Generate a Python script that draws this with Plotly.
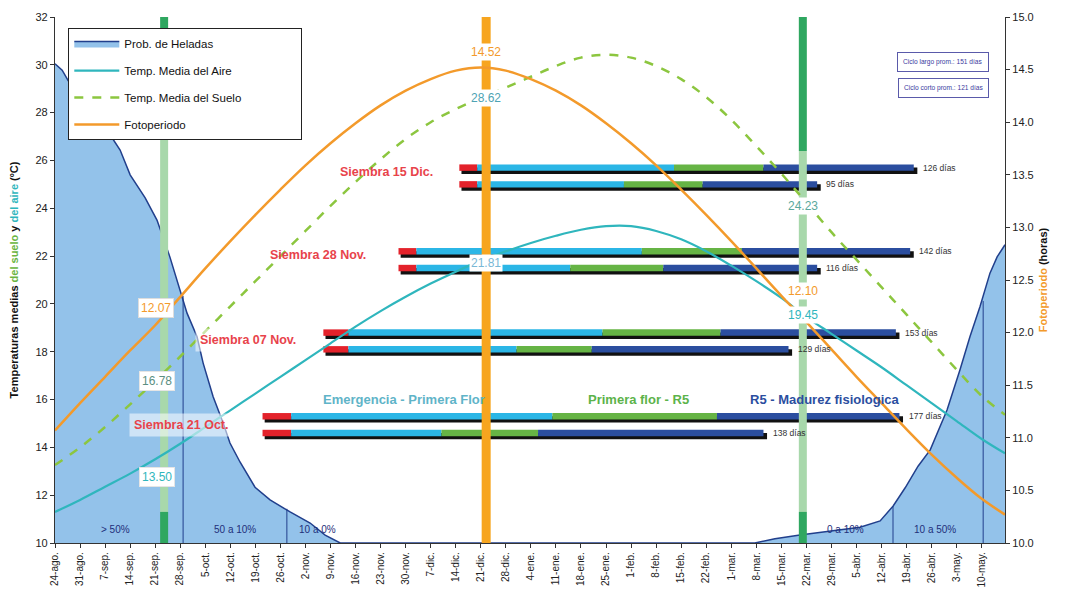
import plotly.graph_objects as go

# ---------------- DATA ----------------
week_labels = ["24-ago.", "31-ago.", "7-sep.", "14-sep.", "21-sep.", "28-sep.", "5-oct.", "12-oct.",
               "19-oct.", "26-oct.", "2-nov.", "9-nov.", "16-nov.", "23-nov.", "30-nov.", "7-dic.",
               "14-dic.", "21-dic.", "28-dic.", "4-ene.", "11-ene.", "18-ene.", "25-ene.", "1-feb.",
               "8-feb.", "15-feb.", "22-feb.", "1-mar.", "8-mar.", "15-mar.", "22-mar.", "29-mar.",
               "5-abr.", "12-abr.", "19-abr.", "26-abr.", "3-may.", "10-may."]
week_days = [7 * i for i in range(len(week_labels))]

# series sampled weekly (days since 24-ago) plus final point
curve_days = week_days + [265.5]
fotoperiodo = [11.07, 11.33, 11.58, 11.83, 12.07, 12.34, 12.61, 12.87, 13.12, 13.36, 13.59, 13.80,
               13.99, 14.16, 14.30, 14.41, 14.49, 14.52, 14.49, 14.41, 14.30, 14.16, 13.99, 13.80,
               13.59, 13.36, 13.12, 12.87, 12.61, 12.35, 12.10, 11.84, 11.58, 11.33, 11.08, 10.84,
               10.62, 10.42, 10.27]
temp_aire = [11.30, 11.80, 12.35, 12.90, 13.50, 14.15, 14.85, 15.55, 16.25, 16.95, 17.65, 18.35,
             19.05, 19.70, 20.30, 20.85, 21.35, 21.81, 22.20, 22.55, 22.85, 23.10, 23.25, 23.25,
             23.05, 22.70, 22.20, 21.60, 20.95, 20.25, 19.45, 18.75, 18.05, 17.35, 16.60, 15.85,
             15.10, 14.35, 13.75]
temp_suelo = [13.26, 14.00, 14.85, 15.80, 16.78, 17.80, 18.85, 19.90, 20.95, 22.00, 23.05, 24.10,
              25.10, 26.05, 26.90, 27.60, 28.15, 28.62, 29.05, 29.50, 29.95, 30.30, 30.42, 30.30,
              29.95, 29.40, 28.65, 27.70, 26.60, 25.45, 24.23, 23.00, 21.85, 20.70, 19.55, 18.40,
              17.25, 16.15, 15.36]

# frost probability (%)
helada_days = [0, 2.0, 3.6, 7.0, 11.2, 15.4, 18.2, 21.0, 25.2, 28.5, 32.1, 34.9, 36.9, 39.7, 41.4,
               44.2, 47.0, 48.9, 51.7, 55.9, 60.1, 65.7, 71.3, 75.5, 79.7,
               195.6, 201.2, 208.2, 216.6, 225.0, 230.6, 234.2, 237.6, 241.2, 244.6, 249.3, 252.9,
               255.7, 258.5, 261.3, 263.3, 265.5]
helada_prob = [91.1, 89.9, 88.0, 84.2, 80.4, 77.6, 74.7, 70.0, 65.6, 61.4, 54.4, 48.1, 43.7, 39.2,
               34.2, 27.8, 22.8, 19.0, 15.4, 10.6, 8.2, 5.9, 3.8, 1.5, 0.0,
               0.0, 0.8, 1.5, 2.3, 3.0, 4.2, 7.0, 10.5, 14.6, 17.7, 25.3, 32.9, 39.2, 44.9, 51.3,
               54.4, 56.7]
rango_dias = [35.8, 64.8, 234.2, 259.4]
rango_prob = [47.0, 6.5, 7.0, 46.0]
rango_textos = ["> 50%", "50 a 10%", "10 a 0%", "0 a 10%", "10 a 50%"]
rango_text_days = [16.8, 50.3, 73.5, 220.8, 246.0]

# phenology bars (days since 24-ago)
siembra_nombres = ["Siembra 15 Dic.", "Siembra 28 Nov.", "Siembra 07 Nov.", "Siembra 21 Oct."]
bar_siembra = [113, 113, 96, 96, 75, 75, 58, 58]
bar_emergencia = [118, 118, 101, 101, 82, 82, 66, 66]
bar_flor = [173, 159, 164, 144, 153, 129, 139, 108]
bar_r5 = [198, 181, 192, 170, 186, 150, 185, 135]
bar_madurez = [240, 213, 239, 213, 235, 205, 236, 198]
bar_dias = [126, 95, 142, 116, 153, 129, 177, 138]
fases = ["Emergencia - Primera Flor", "Primera flor - R5", "R5 - Madurez fisiologica"]
ciclo_textos = ["Ciclo largo prom.: 151 días", "Ciclo corto prom.: 121 días"]

# reference dates (vertical bands): 21-sep, 21-dic, 22-mar
band_days = [30.5, 120.5, 209.0]

# ---------------- LAYOUT CONSTANTS ----------------
BAR_Y = [25.7, 25.0, 22.2, 21.5, 18.8, 18.1, 15.3, 14.6]
LABEL_Y = [25.5, 22.05, 18.5, 14.95]
LABEL_X = [106.2, 87.5, 68.7, 50.0]
FASE_X = [97.5, 163.0, 215.2]
FONT = "Arial, Liberation Sans, sans-serif"

C_ORANGE = "#f39a2b"
C_TEAL = "#2fb6bd"
C_SOIL = "#8cc63f"
C_FROST = "#93c2ea"
C_FROST_LINE = "#213f8c"
C_RED = "#e3222b"
C_CYAN = "#2bb6e6"
C_GREEN = "#66b445"
C_DBLUE = "#2b4e9f"

fig = go.Figure()

# frost probability area (base hidden axis y)
fig.add_trace(go.Scatter(x=helada_days, y=helada_prob, yaxis="y", mode="lines",
                         fill="tozeroy", fillcolor=C_FROST,
                         line=dict(color=C_FROST_LINE, width=1.5),
                         name="Prob. de Heladas", legendgroup="a"))
for d, p in zip(rango_dias, rango_prob):
    fig.add_trace(go.Scatter(x=[d, d], y=[0, p], yaxis="y", mode="lines",
                             line=dict(color=C_FROST_LINE, width=1), showlegend=False,
                             hoverinfo="skip"))

# vertical bands (temperature axis y2)
for i, d in enumerate(band_days):
    if i == 1:
        fig.add_trace(go.Scatter(x=[d, d], y=[10, 32], yaxis="y2", mode="lines",
                                 line=dict(color="#f7a51f", width=9), showlegend=False,
                                 hoverinfo="skip"))
    else:
        split = 27.3 if i == 0 else 26.4
        for (y0, y1, col) in [(split, 32, "#2fa760"), (11.3, split, "#a8d8ab"),
                              (10, 11.3, "#2fa760")]:
            fig.add_trace(go.Scatter(x=[d, d], y=[y0, y1], yaxis="y2", mode="lines",
                                     line=dict(color=col, width=8), showlegend=False,
                                     hoverinfo="skip"))

# curves
fig.add_trace(go.Scatter(x=curve_days, y=temp_aire, yaxis="y2", mode="lines", line_shape="spline",
                         line=dict(color=C_TEAL, width=2.2), name="Temp. Media del Aire",
                         legendgroup="b"))
fig.add_trace(go.Scatter(x=curve_days, y=temp_suelo, yaxis="y2", mode="lines", line_shape="spline",
                         line=dict(color=C_SOIL, width=2.5, dash="dash"),
                         name="Temp. Media del Suelo" + "&nbsp;" * 17, legendgroup="c"))

# bars: shadow then segments
BW = 0.27
fig.add_trace(go.Bar(orientation="h", y=[p - 0.13 for p in BAR_Y], yaxis="y2",
                     base=[s + 0.6 for s in bar_siembra],
                     x=[m - s + 0.4 for s, m in zip(bar_siembra, bar_madurez)],
                     width=BW, marker=dict(color="#111111", line=dict(width=0)),
                     showlegend=False, hoverinfo="skip"))
segments = [(bar_siembra, bar_emergencia, C_RED), (bar_emergencia, bar_flor, C_CYAN),
            (bar_flor, bar_r5, C_GREEN), (bar_r5, bar_madurez, C_DBLUE)]
for starts, ends, col in segments:
    fig.add_trace(go.Bar(orientation="h", y=BAR_Y, yaxis="y2", base=starts,
                         x=[e - s for s, e in zip(starts, ends)], width=BW,
                         marker=dict(color=col, line=dict(width=0)),
                         showlegend=False, hoverinfo="skip"))

# photoperiod (right axis y3)
fig.add_trace(go.Scatter(x=curve_days, y=fotoperiodo, yaxis="y3", mode="lines",
                         line_shape="spline", line=dict(color=C_ORANGE, width=2.5),
                         name="Fotoperiodo", legendgroup="d"))

ann = []

def add(text, x, y, color, size, bold=False, bg=None, xanchor="center", border=None,
        pad=1, yref="y2"):
    t = "<b>" + text + "</b>" if bold else text
    a = dict(text=t, x=x, y=y, xref="x", yref=yref, showarrow=False, xanchor=xanchor,
             yanchor="middle", font=dict(family=FONT, size=size, color=color))
    if bg:
        a["bgcolor"] = bg
        a["borderpad"] = pad
    if border:
        a["bordercolor"] = border
        a["borderwidth"] = 1
    ann.append(a)

# bar end labels
for m, y, n in zip(bar_madurez, BAR_Y, bar_dias):
    add(f"{n} días", m + 2.0, y, "#333333", 8.5, xanchor="left")

# sowing labels
for i, (name, y) in enumerate(zip(siembra_nombres, LABEL_Y)):
    bg = "rgba(255,255,255,0.55)" if i >= 2 else None
    add(name, LABEL_X[i], y, "#e8434b", 12.5, bold=True, bg=bg, xanchor="right", pad=4)

# phase labels
fase_colores = ["#5fb4c8", "#5cb34a", C_DBLUE]
for t, x, c in zip(fases, FASE_X, fase_colores):
    add(t, x, 16.0, c, 13, bold=True)

# values at reference dates
add(f"{fotoperiodo[4]:.2f}", 28.3, 19.83, C_ORANGE, 12, bg="white", border="#dddddd", pad=2)
add(f"{temp_suelo[4]:.2f}", 28.5, 16.78, "#5a8f82", 12, bg="white", border="#e5e5e5", pad=2)
add(f"{temp_aire[4]:.2f}", 28.5, 12.76, C_TEAL, 12, bg="white", border="#e5e5e5", pad=2)
add(f"{fotoperiodo[17]:.2f}", 120.5, 30.55, C_ORANGE, 12, bg="white")
add(f"{temp_suelo[17]:.2f}", 120.5, 28.62, "#4ea3b3", 12, bg="white")
add(f"{temp_aire[17]:.2f}", 120.5, 21.72, "#79b8d6", 12, bg="white")
add(f"{temp_suelo[30]:.2f}", 209.0, 24.08, "#5aa89c", 12, bg="white")
add(f"{fotoperiodo[30]:.2f}", 209.0, 20.52, C_ORANGE, 12, bg="white")
add(f"{temp_aire[30]:.2f}", 209.0, 19.52, C_TEAL, 12, bg="white")

# frost range labels
for t, d in zip(rango_textos, rango_text_days):
    add(t, d, 10.55, "#1f2f7a", 10)

# cycle boxes
add(ciclo_textos[0], 248.2, 30.13, "#3b3ba0", 6.6, bg="white", border="#5a5aaa", pad=5)
add(ciclo_textos[1], 248.2, 29.04, "#3b3ba0", 6.6, bg="white", border="#5a5aaa", pad=5)

axis_common = dict(showgrid=False, zeroline=False, showline=True, linecolor="#333333",
                   linewidth=1.2, ticks="outside", ticklen=4, tickcolor="#333333",
                   automargin=False)

# page body has an 8px margin: figure is 1050x583 so the plot area lands at 55..1005 x 17..543
fig.update_layout(
    width=1050, height=583,
    margin=dict(l=47, r=53, t=9, b=48, autoexpand=False),
    paper_bgcolor="white", plot_bgcolor="white",
    barmode="overlay",
    font=dict(family=FONT, size=11, color="#222222"),
    showlegend=True,
    legend=dict(x=0.014, y=0.979, xanchor="left", yanchor="top",
                bgcolor="white", bordercolor="#222222", borderwidth=1,
                font=dict(family=FONT, size=11.5, color="#111111"),
                tracegroupgap=8, itemwidth=45),
    xaxis=dict(range=[0, 265.5], tickmode="array", tickvals=week_days, ticktext=week_labels,
               tickangle=-90, tickfont=dict(size=10, color="#222222"), **axis_common),
    yaxis=dict(range=[0, 100], visible=False, fixedrange=True),
    yaxis2=dict(range=[10, 32], dtick=2, overlaying="y", side="left",
                tickfont=dict(size=11, color="#222222"), **axis_common,
                title=dict(text="<b>Temperaturas medias <span style='color:#6ab441'>del suelo</span>"
                                " y <span style='color:#2fb6bd'>del aire</span> (ºC)</b>",
                           font=dict(size=11, color="#111111"), standoff=14)),
    yaxis3=dict(range=[10, 15], dtick=0.5, tickformat=".1f", overlaying="y", side="right",
                tickfont=dict(size=11, color="#222222"), **axis_common,
                title=dict(text="<b><span style='color:#f39a2b'>Fotoperiodo</span> (horas)</b>",
                           font=dict(size=11, color="#111111"), standoff=6)),
    annotations=ann,
)

fig.write_html("out.html")
